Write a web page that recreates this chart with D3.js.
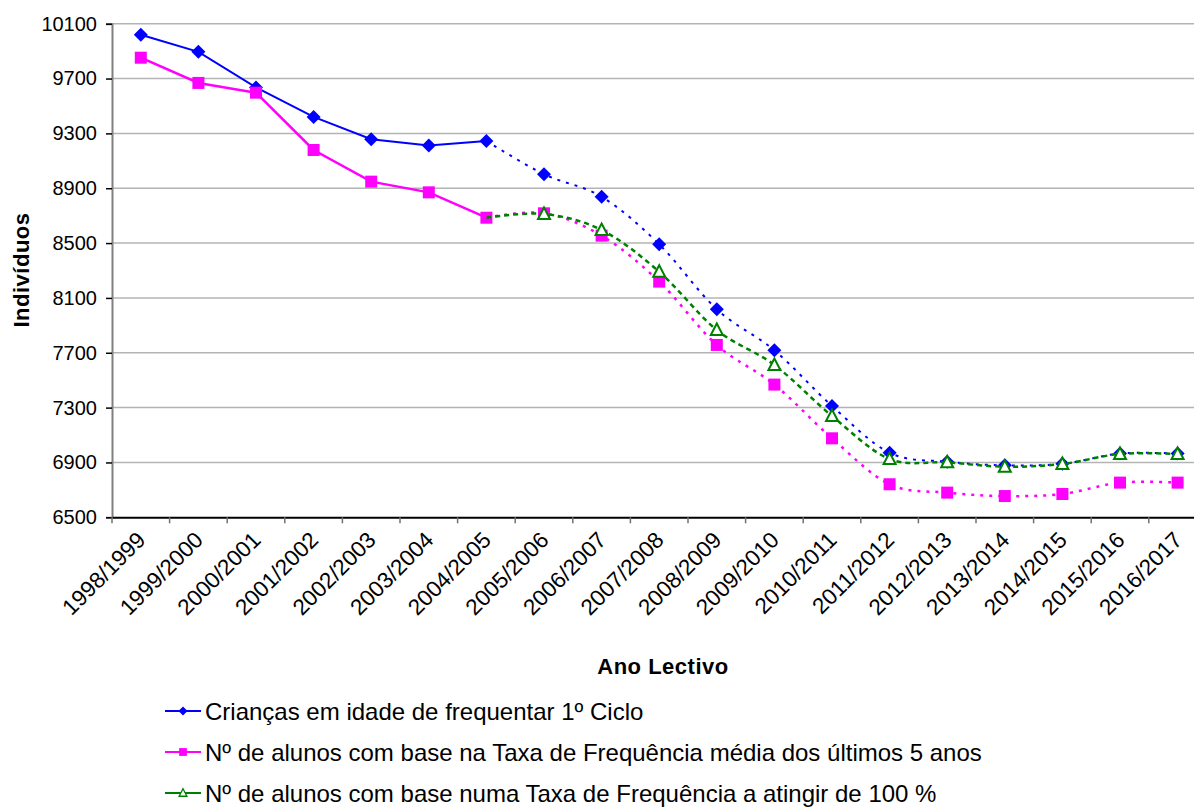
<!DOCTYPE html>
<html>
<head>
<meta charset="utf-8">
<script src="https://cdn.jsdelivr.net/npm/d3@7/dist/d3.min.js"></script>
<style>
  body { margin: 0; background: #fff; }
  text { font-family: "Liberation Sans", Arial, sans-serif; fill: #000; }
</style>
</head>
<body>
<div id="chart"></div>
<script>
// Data
const categories = ["1998/1999", "1999/2000", "2000/2001", "2001/2002", "2002/2003", "2003/2004",
  "2004/2005", "2005/2006", "2006/2007", "2007/2008", "2008/2009", "2009/2010", "2010/2011",
  "2011/2012", "2012/2013", "2013/2014", "2014/2015", "2015/2016", "2016/2017"];

const criancas = [10020, 9895, 9635, 9420, 9257, 9211, 9245, 9002, 8838, 8491, 8017, 7718, 7312,
  6971, 6905, 6879, 6890, 6965, 6965];
const mediaCincoAnos = [9852, 9668, 9597, 9179, 8948, 8870, 8685, 8717, 8554, 8219, 7757, 7468, 7076,
  6741, 6680, 6655, 6670, 6753, 6753];
const taxaCem = [null, null, null, null, null, null, 8685, 8712, 8595, 8291, 7866, 7611, 7239,
  6925, 6901, 6869, 6889, 6962, 6962];

const yTicks = [6500, 6900, 7300, 7700, 8100, 8500, 8900, 9300, 9700, 10100];
const lastObserved = 6; // 2004/2005, projections start after it

const seriesNames = [
  "Crianças em idade de frequentar 1º Ciclo",
  "Nº de alunos com base na Taxa de Frequência média dos últimos 5 anos",
  "Nº de alunos com base numa Taxa de Frequência a atingir de 100 %"
];

const width = 1194, height = 807;
const plot = {left: 112, top: 23.7, bottom: 517.3, step: 57.6};

const svg = d3.select("#chart").append("svg")
  .attr("width", width)
  .attr("height", height)
  .style("display", "block");

svg.append("rect").attr("width", width).attr("height", height).attr("fill", "#fff");

const x = d3.scaleBand()
  .domain(categories)
  .range([plot.left, plot.left + plot.step * categories.length])
  .paddingInner(0).paddingOuter(0);

const y = d3.scaleLinear()
  .domain([6500, 10100])
  .range([plot.bottom, plot.top]);

const cx = c => x(c) + x.bandwidth() / 2;

// gridlines
svg.append("g")
  .selectAll("line")
  .data(yTicks.filter(t => t > 6500))
  .enter().append("line")
  .attr("x1", plot.left).attr("x2", x.range()[1])
  .attr("y1", d => y(d)).attr("y2", d => y(d))
  .attr("stroke", "#b4b4b4")
  .attr("stroke-width", 1.5);

// y axis
const yAxis = svg.append("g")
  .attr("transform", `translate(${plot.left},0)`)
  .call(d3.axisLeft(y).tickValues(yTicks).tickSize(6).tickPadding(9).tickFormat(d3.format("d")));
yAxis.select(".domain").attr("stroke", "#808080").attr("stroke-width", 2);
yAxis.selectAll(".tick line").attr("stroke", "#000").attr("stroke-width", 1.5);
yAxis.selectAll(".tick text")
  .style("font-size", "20px")
  .style("font-family", "'Liberation Sans', Arial, sans-serif");

// x axis: ticks between categories, labels rotated
const xAxis = svg.append("g")
  .attr("transform", `translate(0,${plot.bottom})`)
  .call(d3.axisBottom(x).tickSize(0).tickPadding(0));
xAxis.select(".domain").attr("stroke", "#000").attr("stroke-width", 2);
xAxis.selectAll(".tick text")
  .style("font-size", "22.5px")
  .style("font-family", "'Liberation Sans', Arial, sans-serif")
  .attr("text-anchor", "end")
  .attr("dy", null)
  .attr("y", 0)
  .attr("transform", "translate(6,24) rotate(-45)");

svg.append("g")
  .selectAll("line")
  .data(categories.concat([null]))
  .enter().append("line")
  .attr("x1", (d, i) => plot.left + i * x.step())
  .attr("x2", (d, i) => plot.left + i * x.step())
  .attr("y1", plot.bottom).attr("y2", plot.bottom + 6)
  .attr("stroke", "#707070")
  .attr("stroke-width", 1.5);

// axis titles
svg.append("text")
  .attr("x", 663).attr("y", 674)
  .attr("text-anchor", "middle")
  .style("font-size", "22px").style("font-weight", "bold")
  .style("letter-spacing", "0.5px")
  .text("Ano Lectivo");

svg.append("text")
  .attr("transform", "translate(29,270) rotate(-90)")
  .attr("text-anchor", "middle")
  .style("font-size", "22px").style("font-weight", "bold")
  .style("letter-spacing", "0.5px")
  .text("Indivíduos");

// series
const series = [
  {name: seriesNames[0], values: criancas, color: "#0000ff", marker: "diamond", width: 2, dash: "3,6"},
  {name: seriesNames[1], values: mediaCincoAnos, color: "#ff00ff", marker: "square", width: 2.5, dash: "3,6"},
  {name: seriesNames[2], values: taxaCem, color: "#008000", marker: "triangle", width: 2.5, dash: "5,4"}
];

const lineStraight = d3.line()
  .x(d => cx(d.cat)).y(d => y(d.value));
const lineSmooth = d3.line()
  .x(d => cx(d.cat)).y(d => y(d.value))
  .curve(d3.curveCatmullRom.alpha(0));

function drawMarker(g, kind, color, px, py) {
  if (kind === "diamond") {
    g.append("path")
      .attr("d", `M${px},${py - 7}L${px + 7},${py}L${px},${py + 7}L${px - 7},${py}Z`)
      .attr("fill", color);
  } else if (kind === "square") {
    g.append("rect")
      .attr("x", px - 6).attr("y", py - 6)
      .attr("width", 12).attr("height", 12)
      .attr("fill", color);
  } else {
    g.append("path")
      .attr("d", `M${px},${py - 6.5}L${px + 6},${py + 5}L${px - 6},${py + 5}Z`)
      .attr("fill", "#fff")
      .attr("stroke", color)
      .attr("stroke-width", 2);
  }
}

series.forEach(s => {
  const pts = categories.map((c, i) => ({cat: c, value: s.values[i], i: i}))
    .filter(d => d.value != null);
  const hist = pts.filter(d => d.i <= lastObserved);
  const proj = pts.filter(d => d.i >= lastObserved);
  const g = svg.append("g");

  if (hist.length > 1) {
    g.append("path")
      .attr("d", lineStraight(hist))
      .attr("fill", "none")
      .attr("stroke", s.color)
      .attr("stroke-width", s.width);
  }
  g.append("path")
    .attr("d", lineSmooth(proj))
    .attr("fill", "none")
    .attr("stroke", s.color)
    .attr("stroke-width", s.width)
    .attr("stroke-dasharray", s.dash);

  pts.forEach(d => {
    if (s.marker === "triangle" && d.i <= lastObserved) return;
    drawMarker(g, s.marker, s.color, cx(d.cat), y(d.value));
  });
});

// legend
const legend = svg.append("g");
const legendRows = [711, 752, 793];
series.forEach((s, i) => {
  const ly = legendRows[i];
  legend.append("line")
    .attr("x1", 165).attr("x2", 201)
    .attr("y1", ly).attr("y2", ly)
    .attr("stroke", s.color).attr("stroke-width", 2);
  const mg = legend.append("g").attr("transform", `translate(183,${ly}) scale(0.65) translate(-183,${-ly})`);
  drawMarker(mg, s.marker, s.color, 183, ly);
  legend.append("text")
    .attr("x", 205).attr("y", ly)
    .attr("dy", "0.36em")
    .style("font-size", "24px")
    .text(s.name);
});
</script>
</body>
</html>
